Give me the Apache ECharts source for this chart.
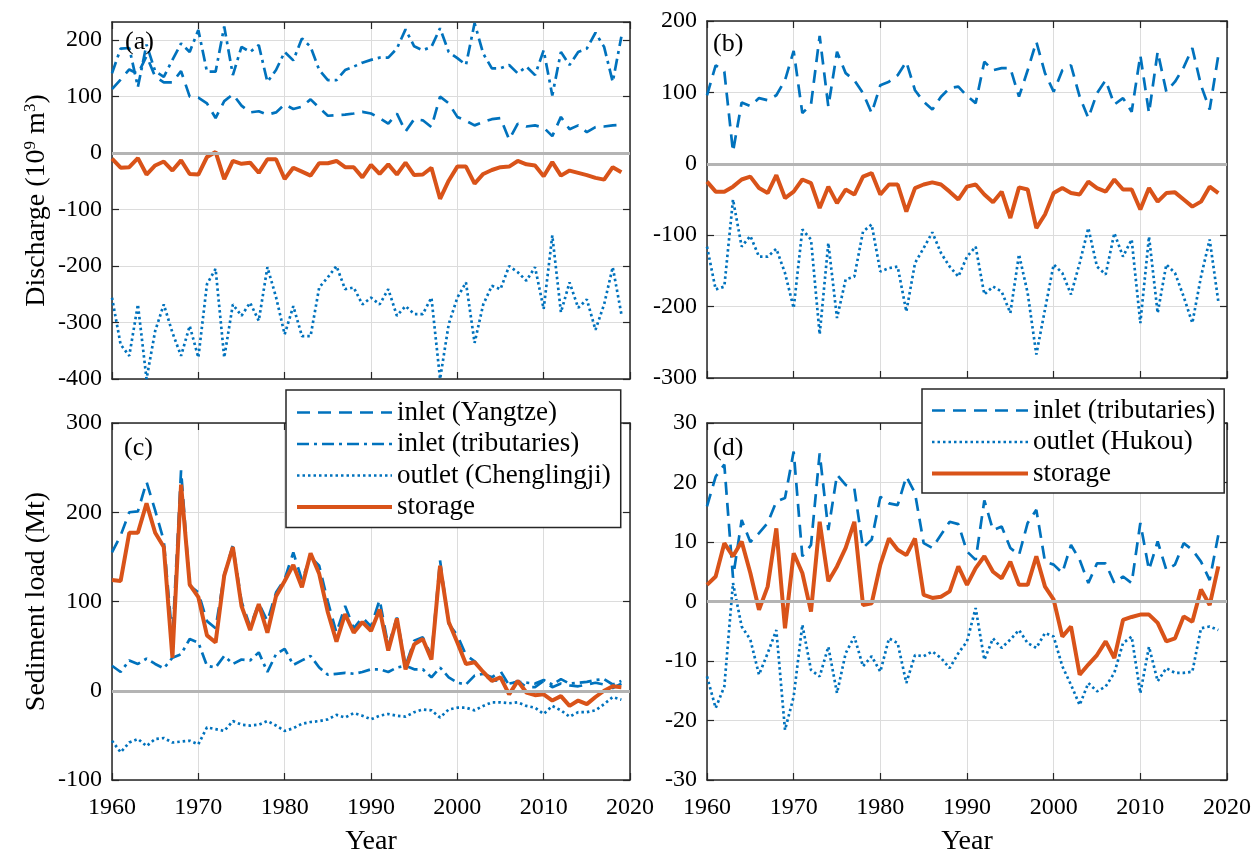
<!DOCTYPE html>
<html>
<head>
<meta charset="utf-8">
<script src="https://cdn.jsdelivr.net/npm/echarts@6/dist/echarts.min.js"></script>
<style>
  html, body { margin: 0; padding: 0; background: #fff; }
  #main { width: 1255px; height: 852px; }
</style>
</head>
<body>
<div id="main"></div>
<script>
// years 1960-2019
var years = [1960,1961,1962,1963,1964,1965,1966,1967,1968,1969,
             1970,1971,1972,1973,1974,1975,1976,1977,1978,1979,
             1980,1981,1982,1983,1984,1985,1986,1987,1988,1989,
             1990,1991,1992,1993,1994,1995,1996,1997,1998,1999,
             2000,2001,2002,2003,2004,2005,2006,2007,2008,2009,
             2010,2011,2012,2013,2014,2015,2016,2017,2018,2019];

// (a) Dongting discharge, 10^9 m3
var dtYangtze = [113,130,148,140,172,135,125,125,145,100, 98,88,62,92,104,84,72,74,68,72,
                 86,78,82,95,80,66,67,68,70,73, 70,62,52,70,38,60,58,46,100,88,
                 64,57,49,55,60,62,24,52,47,49, 45,30,64,42,49,37,46,47,49,50];
var dtTrib = [141,185,186,117,192,145,135,165,194,179, 218,144,144,224,138,188,179,191,126,147,
              179,164,203,188,147,129,129,147,153,160, 165,169,169,185,219,189,182,188,221,179,
              168,156,230,176,150,150,156,141,153,138, 182,102,179,156,179,185,213,188,126,206];
var dtOutlet = [-256,-339,-359,-268,-400,-315,-268,-318,-359,-306, -362,-232,-205,-362,-268,-288,-265,-297,-202,-255,
                -321,-271,-324,-324,-238,-220,-200,-241,-238,-268, -256,-268,-241,-288,-271,-285,-285,-256,-400,-303,
                -256,-229,-336,-268,-235,-241,-200,-211,-226,-202, -276,-146,-282,-229,-274,-259,-313,-268,-202,-285];
var dtStorage = [-10,-26,-25,-9,-38,-22,-15,-31,-13,-37, -38,-7,2,-46,-14,-19,-17,-35,-11,-11,
                 -46,-26,-33,-40,-18,-18,-14,-25,-25,-43, -21,-37,-20,-38,-17,-39,-38,-26,-81,-49,
                 -24,-24,-54,-37,-30,-25,-24,-14,-20,-22, -41,-16,-40,-31,-35,-39,-44,-47,-25,-34];

// (b) Poyang discharge, 10^9 m3
var pyTrib = [96,138,129,17,86,81,92,89,96,117, 158,71,83,179,80,157,127,117,99,71,
              110,115,124,143,103,87,76,94,106,108, 95,85,143,131,134,134,94,131,171,127,
              101,131,138,94,64,99,117,83,92,73, 152,71,157,101,115,135,162,110,76,152];
var pyOutlet = [-116,-176,-172,-50,-116,-101,-130,-130,-119,-153, -202,-92,-106,-239,-111,-216,-162,-158,-95,-85,
                -151,-146,-144,-207,-139,-118,-96,-125,-144,-158, -130,-116,-183,-172,-179,-209,-127,-181,-267,-204,
                -141,-153,-183,-139,-90,-144,-155,-97,-130,-106, -223,-102,-209,-141,-153,-186,-223,-158,-106,-193];
var pyStorage = [-25,-39,-39,-32,-22,-18,-34,-41,-16,-48, -39,-22,-27,-62,-32,-55,-36,-43,-18,-13,
                 -43,-29,-29,-67,-34,-29,-26,-29,-39,-50, -32,-29,-43,-54,-39,-76,-33,-36,-90,-71,
                 -41,-34,-41,-43,-25,-34,-39,-22,-36,-36, -64,-34,-53,-41,-40,-50,-60,-53,-32,-41];

// (c) Dongting sediment, Mt
var sdYangtze = [155,174,200,201,234,202,168,58,247,118, 110,78,70,130,163,100,72,98,78,110,
                 125,155,124,150,140,100,65,95,70,82, 72,102,50,82,28,56,60,39,146,75,
                 62,40,33,19,15,22,6,11,4,4, 11,4,8,6,5,7,9,7,3,8];
var sdTrib = [28,21,34,30,36,30,25,37,41,58, 54,28,26,39,30,35,34,43,21,41,
              47,29,34,39,26,18,19,20,19,21, 24,24,21,26,28,24,24,15,26,15,
              9,7,17,19,11,12,8,10,9,8, 12,7,13,8,9,10,12,13,7,11];
var sdOutlet = [-56,-69,-58,-54,-62,-54,-53,-58,-57,-56, -60,-41,-43,-45,-34,-38,-39,-38,-34,-39,
                -45,-42,-37,-35,-34,-32,-27,-30,-25,-28, -32,-28,-26,-28,-29,-24,-21,-22,-30,-21,
                -19,-19,-22,-17,-13,-13,-14,-13,-17,-19, -26,-17,-22,-29,-24,-24,-22,-15,-7,-10];
var sdStorage = [124,123,177,177,210,177,161,37,231,119, 105,62,54,129,161,95,68,97,65,106,
                 123,141,116,154,131,88,55,86,65,77, 67,91,45,81,24,52,58,35,140,77,
                 54,30,32,21,11,15,-4,11,-2,-5, -4,-11,-6,-17,-11,-15,-7,0,5,4];

// (d) Poyang sediment, Mt
var psTrib = [16,21,23,4,13.7,10,11.5,13.2,16.8,17.4, 25.2,7.6,9.5,24.9,12,21.3,19.6,19,9,10.4,
              17.6,16.5,16.2,21,18.2,9.8,9,11.2,13.4,13, 8.4,7,17,12,12.6,9,7.8,13.2,15.4,6.7,
              6.2,4.8,9.5,7,3.1,6.4,6.4,3.1,4.2,3.1, 13.2,5.3,10.1,5.3,6.2,9.8,8.7,6.7,3.6,11.2];
var psOutlet = [-12.6,-17.9,-14.3,3.1,-4.2,-6.4,-12.3,-8.7,-4.8,-21.6, -16,-3.9,-11.5,-12.6,-7.6,-15.4,-8.7,-5.9,-10.9,-9.2,
                -11.8,-6.2,-7,-13.7,-9,-9.2,-8.4,-9.5,-11.2,-8.7, -6.7,-1.1,-9.8,-6.2,-7.8,-6.4,-4.8,-7,-7.8,-5.3,
                -5.9,-10.9,-14,-17.4,-13.7,-15.1,-14.3,-12,-7,-5.9, -15.4,-7.6,-13.4,-11.2,-12,-12,-11.8,-4.5,-4.2,-4.8];
var psStorage = [2.8,4.2,9.8,7.6,10.1,4.8,-1.4,2.5,12.3,-4.5, 8.1,4.8,-1.7,13.4,3.4,5.9,9,13.4,-0.6,-0.3,
                 6.2,10.6,8.7,7.8,10.6,1.1,0.6,0.8,1.7,5.9, 2.8,5.6,7.6,5,3.9,6.7,2.8,2.8,7.6,2.5,
                 0.3,-5.9,-4.2,-12.3,-10.6,-9,-6.7,-9.5,-3.1,-2.6, -2.2,-2.2,-3.6,-6.7,-6.2,-2.5,-3.4,2,-0.6,5.9];

var BLUE = '#0072BD', ORANGE = '#D95319', INK = '#262626';
var FONT = '"Liberation Serif", "Times New Roman", serif';
var DASH = [13, 8], DASHDOT = [12, 5, 3, 5], DOT = [2.5, 3];

function pts(arr) {
    return years.map(function (y, k) { return [y, arr[k]]; });
}

var grids = [
    {left: 112, top: 22, width: 518, height: 357, outerBoundsMode: 'none'},
    {left: 707, top: 21, width: 520, height: 357, outerBoundsMode: 'none'},
    {left: 112, top: 423, width: 518, height: 357, outerBoundsMode: 'none'},
    {left: 707, top: 423, width: 520, height: 357, outerBoundsMode: 'none'}
];
var yRanges = [[-400, 232, 100], [-300, 200, 100], [-100, 300, 100], [-30, 30, 10]];

var xAxes = [], yAxes = [];
grids.forEach(function (g, i) {
    var bottomRow = i >= 2;
    var line = {show: true, onZero: false, lineStyle: {color: INK, width: 1.5}};
    var tick = {show: true, inside: true, length: 7, lineStyle: {color: INK, width: 1.2}};
    xAxes.push({
        gridIndex: i, type: 'value', min: 1960, max: 2020, interval: 10,
        axisLine: line, axisTick: tick,
        axisLabel: {show: bottomRow, margin: 16, fontSize: 24, color: '#000', fontFamily: FONT,
                    formatter: function (v) { return String(v); }},
        splitLine: {show: true, lineStyle: {color: '#dcdcdc', width: 1}},
        name: bottomRow ? 'Year' : '', nameLocation: 'middle', nameGap: 48,
        nameTextStyle: {fontSize: 28, color: '#000', fontFamily: FONT}
    });
    xAxes.push({
        gridIndex: i, type: 'value', position: 'top', min: 1960, max: 2020, interval: 10,
        axisLine: line, axisTick: tick, axisLabel: {show: false}, splitLine: {show: false}
    });
    var r = yRanges[i];
    var yName = '';
    if (i === 0) yName = 'Discharge (10{sup|9} m{sup|3})';
    if (i === 2) yName = 'Sediment load (Mt)';
    yAxes.push({
        gridIndex: i, type: 'value', min: r[0], max: r[1], interval: r[2],
        axisLine: line, axisTick: tick,
        axisLabel: {margin: 10, fontSize: 24, color: '#000', fontFamily: FONT, showMaxLabel: i !== 0},
        splitLine: {show: true, lineStyle: {color: '#dcdcdc', width: 1}},
        name: yName, nameLocation: 'middle', nameRotate: 90, nameGap: 60,
        nameTextStyle: {fontSize: 28, color: '#000', fontFamily: FONT, lineHeight: 30,
                        rich: {sup: {fontSize: 17, fontFamily: FONT, color: '#000', verticalAlign: 'top', lineHeight: 30}}}
    });
    yAxes.push({
        gridIndex: i, type: 'value', position: 'right', min: r[0], max: r[1], interval: r[2],
        axisLine: line, axisTick: tick, axisLabel: {show: false}, splitLine: {show: false}
    });
});

function mk(name, g, arr, color, width, type, z) {
    return {
        name: name, type: 'line', xAxisIndex: 2 * g, yAxisIndex: 2 * g,
        data: pts(arr), symbol: 'none', z: z || 3,
        lineStyle: {color: color, width: width, type: type, cap: 'butt'},
        itemStyle: {color: color}
    };
}
function zeroLine(g) {
    return {
        type: 'line', xAxisIndex: 2 * g, yAxisIndex: 2 * g, data: [], z: 2, silent: true,
        markLine: {symbol: 'none', silent: true, label: {show: false},
                   lineStyle: {color: '#b4b4b4', width: 3, type: 'solid'},
                   data: [{yAxis: 0}]}
    };
}

var series = [
    zeroLine(0), zeroLine(1), zeroLine(2), zeroLine(3),
    mk('inlet (Yangtze)', 0, dtYangtze, BLUE, 2.7, DASH),
    mk('inlet (tributaries)', 0, dtTrib, BLUE, 2.7, DASHDOT),
    mk('outlet (Chenglingji)', 0, dtOutlet, BLUE, 2.7, DOT),
    mk('storage', 0, dtStorage, ORANGE, 4, 'solid', 4),
    mk('P inlet (tributaries)', 1, pyTrib, BLUE, 2.7, DASH),
    mk('P outlet (Hukou)', 1, pyOutlet, BLUE, 2.7, DOT),
    mk('P storage', 1, pyStorage, ORANGE, 4, 'solid', 4),
    mk('inlet (Yangtze)', 2, sdYangtze, BLUE, 2.7, DASH),
    mk('inlet (tributaries)', 2, sdTrib, BLUE, 2.7, DASHDOT),
    mk('outlet (Chenglingji)', 2, sdOutlet, BLUE, 2.7, DOT),
    mk('storage', 2, sdStorage, ORANGE, 4, 'solid', 4),
    mk('P inlet (tributaries)', 3, psTrib, BLUE, 2.7, DASH),
    mk('P outlet (Hukou)', 3, psOutlet, BLUE, 2.7, DOT),
    mk('P storage', 3, psStorage, ORANGE, 4, 'solid', 4)
];

var legendBase = {
    orient: 'vertical', itemWidth: 95, itemHeight: 14, itemGap: 4.5,
    backgroundColor: '#fff', borderColor: INK, borderWidth: 1.5, borderRadius: 0,
    textStyle: {fontSize: 27, color: '#000', fontFamily: FONT},
    itemStyle: {opacity: 0},
    lineStyle: {width: 'inherit'},
    selectedMode: false, z: 10
};

var option = {
    animation: false,
    backgroundColor: '#fff',
    grid: grids,
    xAxis: xAxes,
    yAxis: yAxes,
    legend: [
        Object.assign({}, legendBase, {
            left: 286, top: 390, padding: [9, 10, 7, 9],
            data: ['inlet (Yangtze)', 'inlet (tributaries)', 'outlet (Chenglingji)', 'storage']
        }),
        Object.assign({}, legendBase, {
            left: 922, top: 389, padding: [8, 9, 6, 8], itemWidth: 96,
            data: ['P inlet (tributaries)', 'P outlet (Hukou)', 'P storage'],
            formatter: function (name) { return name.replace(/^P /, ''); }
        })
    ],
    graphic: [
        {type: 'text', left: 125, top: 29, z: 20, style: {text: '(a)', font: '26px ' + FONT, fill: '#000'}},
        {type: 'text', left: 713, top: 31, z: 20, style: {text: '(b)', font: '26px ' + FONT, fill: '#000'}},
        {type: 'text', left: 124, top: 435, z: 20, style: {text: '(c)', font: '26px ' + FONT, fill: '#000'}},
        {type: 'text', left: 713, top: 435, z: 20, style: {text: '(d)', font: '26px ' + FONT, fill: '#000'}}
    ],
    series: series
};

var chart = echarts.init(document.getElementById('main'), null, {renderer: 'canvas'});
chart.setOption(option);
</script>
</body>
</html>
